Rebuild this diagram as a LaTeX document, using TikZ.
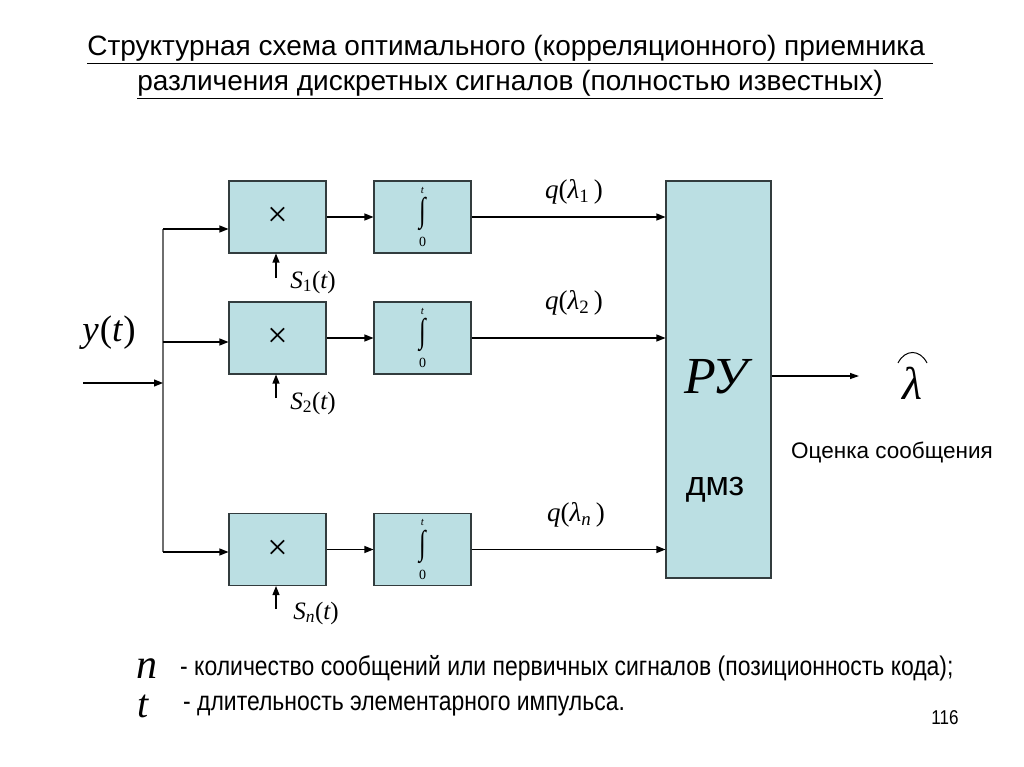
\documentclass[tikz,border=0pt]{standalone}
\usepackage{fontspec}
\setmainfont{Liberation Sans}
\newfontfamily\tms{Liberation Serif}
\newfontfamily\narrowsans[FakeStretch=0.85]{Liberation Sans}
\usetikzlibrary{arrows.meta}
\definecolor{boxc}{RGB}{187,223,227}
\definecolor{edgec}{RGB}{50,60,62}
\definecolor{busc}{RGB}{110,110,110}
\newcommand\mi[1]{{\tms\itshape #1}}
\newcommand\intsym{{\tms\fontsize{11}{11}\selectfont\itshape t}\\[3pt]
  {\tms\bfseries\fontsize{22}{22}\selectfont\scalebox{1.1}[1.55]{∫}}\\[6pt]
  {\tms\fontsize{14}{14}\selectfont 0}}
\newcommand\mulsym{{\tms\fontsize{36}{36}\selectfont ×}}
\tikzset{
  blk/.style={draw=edgec, line width=1.1pt, fill=boxc, minimum width=97pt, minimum height=72pt, inner sep=0pt, align=center},
  arr/.style={line width=1.2pt, -{Triangle[length=9pt,width=7pt]}},
  wire/.style={line width=1.2pt},
  lbl/.style={inner sep=0pt, font=\tms\fontsize{27}{27}\selectfont},
  slbl/.style={inner sep=0pt, font=\tms\fontsize{25}{25}\selectfont},
}
\begin{document}
\begin{tikzpicture}[x=1pt,y=-1pt]
\useasboundingbox (0,0) rectangle (1024,767);
\fill[white] (0,0) rectangle (1024,767);
% title
\node[align=center, inner sep=0pt, font=\fontsize{28}{35}\selectfont] (title) at (510,67)
  {\underline{Структурная схема оптимального (корреляционного) приемника\ }\\
   \underline{различения дискретных сигналов (полностью известных)}};
% multipliers
\node[blk] (m1) at (277.5,217) {\mulsym};
\node[blk] (m2) at (277.5,338) {\mulsym};
\node[blk] (m3) at (277.5,549.5) {\mulsym};
% integrators
\node[blk] (i1) at (422.5,217) {\intsym};
\node[blk] (i2) at (422.5,338) {\intsym};
\node[blk] (i3) at (422.5,549.5) {\intsym};
% decision device
\node[draw=edgec, line width=1.1pt, fill=boxc, minimum width=105pt, minimum height=397pt, inner sep=0pt] (ru) at (718.5,379.5) {};
\node[inner sep=0pt, font=\tms\itshape\fontsize{52}{52}\selectfont] (rutext) at (716,377) {РУ};
\node[inner sep=0pt, font=\fontsize{34}{34}\selectfont] (dmz) at (715,490) {дмз};
% bus
\coordinate (b1) at (163,229);
\coordinate (b2) at (163,342);
\coordinate (b3) at (163,552);
\coordinate (bin) at (163,383);
\coordinate (in) at (83,383);
\draw[wire, busc] (b1) -- (b3);
\draw[arr] (b1) -- (m1.west |- b1);
\draw[arr] (b2) -- (m2.west |- b2);
\draw[arr] (b3) -- (m3.west |- b3);
\draw[arr] (in) -- (bin);
\node[inner sep=0pt, font=\tms\fontsize{37}{37}\selectfont] (yt) at (109,333) {\mi{y}\kern1pt(\mi{t}\kern1pt)};
% multiplier -> integrator
\draw[arr] (m1.east) -- (i1.west);
\draw[arr] (m2.east) -- (i2.west);
\draw[arr] (m3.east) -- (i3.west);
% integrator -> RU
\draw[arr] (i1.east) -- (ru.west |- i1.east);
\draw[arr] (i2.east) -- (ru.west |- i2.east);
\draw[arr] (i3.east) -- (ru.west |- i3.east);
\node[lbl] (q1) at (574,192) {\mi{q}(\mi{λ}\textsubscript{1}\,)};
\node[lbl] (q2) at (574,303) {\mi{q}(\mi{λ}\textsubscript{2}\,)};
\node[lbl] (q3) at (576,515) {\mi{q}(\mi{λ}\textsubscript{\mi{n}}\,)};
% reference signals
\coordinate (s1) at (276,278);
\coordinate (s2) at (276,398);
\coordinate (s3) at (276,609);
\draw[arr] (s1) -- (m1.south -| s1);
\draw[arr] (s2) -- (m2.south -| s2);
\draw[arr] (s3) -- (m3.south -| s3);
\node[slbl] (sl1) at (313,282) {\mi{S}\textsubscript{1}(\mi{t})};
\node[slbl] (sl2) at (313,403) {\mi{S}\textsubscript{2}(\mi{t})};
\node[slbl] (sl3) at (316,613) {\mi{S}\textsubscript{\mi{n}}(\mi{t})};
% output
\coordinate (out) at (859,376);
\draw[line width=1.2pt, -{Triangle[length=9pt,width=6pt]}] (ru.east |- out) -- (out);
\node[inner sep=0pt, font=\tms\itshape\fontsize{46}{46}\selectfont] (lam) at (912,383) {λ};
\draw[line width=1pt] (898,363) .. controls (905,349) and (920,349) .. (927,363);
\node[inner sep=0pt, font=\fontsize{22.5}{22.5}\selectfont] (est) at (892,452) {Оценка сообщения};
% legend
\node[inner sep=0pt, anchor=base, font=\tms\itshape\fontsize{42}{42}\selectfont] (nsym) at (147,678) {n};
\node[inner sep=0pt, anchor=base, font=\tms\itshape\fontsize{40}{40}\selectfont] (tsym) at (143,717) {t};
\node[inner sep=0pt, anchor=west, font=\narrowsans\fontsize{27}{27}\selectfont] (leg1) at (180,668) {- количество сообщений или первичных сигналов (позиционность кода);};
\node[inner sep=0pt, anchor=west, font=\narrowsans\fontsize{27}{27}\selectfont] (leg2) at (183,706) {- длительность элементарного импульса.};
\node[inner sep=0pt, font=\narrowsans\fontsize{20}{20}\selectfont] (page) at (945,718) {116};
\end{tikzpicture}
\end{document}
